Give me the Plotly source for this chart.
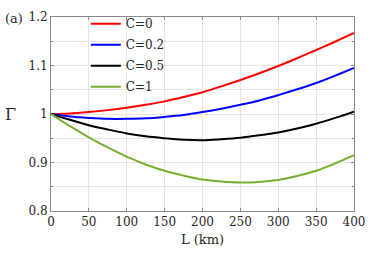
import plotly.graph_objects as go

L_km = [0, 25, 50, 75, 100, 125, 150, 175, 200, 225, 250, 275, 300, 325, 350, 375, 400]
gamma_c0 = [1.000, 1.001, 1.004, 1.008, 1.013, 1.019, 1.026, 1.035, 1.045, 1.057, 1.070, 1.084, 1.099, 1.115, 1.132, 1.149, 1.167]
gamma_c02 = [1.000, 0.995, 0.992, 0.990, 0.990, 0.991, 0.994, 0.998, 1.004, 1.011, 1.019, 1.028, 1.039, 1.051, 1.064, 1.079, 1.095]
gamma_c05 = [1.000, 0.988, 0.977, 0.968, 0.960, 0.954, 0.950, 0.947, 0.946, 0.948, 0.951, 0.956, 0.962, 0.970, 0.980, 0.992, 1.005]
gamma_c1 = [1.000, 0.975, 0.952, 0.931, 0.912, 0.896, 0.883, 0.873, 0.865, 0.861, 0.859, 0.860, 0.864, 0.872, 0.883, 0.898, 0.915]

series = [
    ("C=0", gamma_c0, "#ff0000"),
    ("C=0.2", gamma_c02, "#0000ff"),
    ("C=0.5", gamma_c05, "#000000"),
    ("C=1", gamma_c1, "#77ac30"),
]

x_ticks = [0, 50, 100, 150, 200, 250, 300, 350, 400]
y_ticks = [0.8, 0.9, 1.0, 1.1, 1.2]
y_tick_labels = ["0.8", "0.9", "1", "1.1", "1.2"]

font_family = "DejaVu Serif"
text_color = "#262626"

fig = go.Figure()
for i, (name, vals, color) in enumerate(series):
    fig.add_trace(go.Scatter(
        x=L_km, y=vals, mode="lines", name=name,
        line=dict(color=color, width=2, shape="spline", smoothing=1.0),
        legendgroup=f"g{i}",
    ))

axis_common = dict(
    showline=True, linecolor="#888888", linewidth=1, mirror="allticks",
    ticks="inside", ticklen=3, tickcolor="#888888",
    showgrid=True, gridcolor="#e6e6e6", gridwidth=1, zeroline=False,
    tickfont=dict(family=font_family, size=12, color=text_color),
)

fig.update_xaxes(
    range=[0, 400], tickvals=x_ticks, **axis_common,
    title=dict(text="L (km)", font=dict(family=font_family, size=13, color=text_color), standoff=6),
)
fig.update_yaxes(
    range=[0.8, 1.2], tickvals=y_ticks, ticktext=y_tick_labels, **axis_common,
    minor=dict(dtick=0.05, tick0=0.8, showgrid=True, gridcolor="#e6e6e6", ticks="inside", ticklen=2, tickcolor="#888888"),
)

fig.add_annotation(text="Γ", xref="paper", yref="paper", x=-0.135, y=0.5,
                   showarrow=False, font=dict(family=font_family, size=16, color=text_color),
                   xanchor="center", yanchor="middle")
fig.add_annotation(text="(a)", xref="paper", yref="paper", x=-0.16, y=0.99,
                   showarrow=False, font=dict(family=font_family, size=13, color=text_color),
                   xanchor="left", yanchor="middle")

fig.update_layout(
    width=374, height=256,
    margin=dict(l=51, r=13, t=9, b=45),
    plot_bgcolor="white", paper_bgcolor="white",
    showlegend=True,
    legend=dict(x=0.115, y=1.04, xanchor="left", yanchor="top", bgcolor="rgba(0,0,0,0)",
                font=dict(family=font_family, size=12, color=text_color),
                tracegroupgap=2, borderwidth=0),
)

fig.write_html("out.html", config={"displayModeBar": False},
               post_script="document.body.style.margin='0';")
